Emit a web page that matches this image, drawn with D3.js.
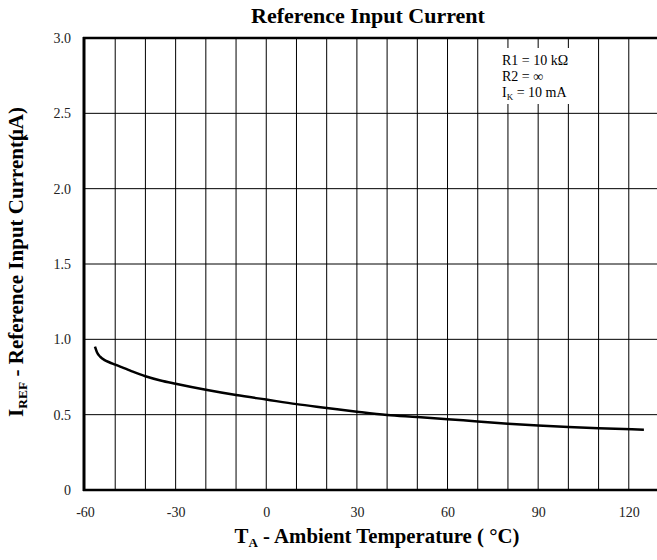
<!DOCTYPE html>
<html>
<head>
<meta charset="utf-8">
<script src="https://cdn.jsdelivr.net/npm/d3@7"></script>
<style>
  body { margin: 0; background: #fff; }
  svg { display: block; font-family: "Liberation Serif", "Times New Roman", serif; }
</style>
</head>
<body>
<svg id="chart"></svg>
<script>
// temperature (°C) vs reference input current (uA)
const temps = [-56.7, -56, -55, -53.5, -52, -50, -45, -40, -35, -30, -20, -10, 0, 10, 20, 30, 40, 50, 60, 70, 80, 90, 100, 110, 125];
const iref  = [0.951, 0.912, 0.885, 0.862, 0.848, 0.832, 0.792, 0.755, 0.727, 0.705, 0.665, 0.63, 0.6, 0.57, 0.545, 0.52, 0.498, 0.485, 0.47, 0.455, 0.44, 0.428, 0.418, 0.41, 0.4];

const xTicks = [-60, -30, 0, 30, 60, 90, 120];
const yTicks = [0, 0.5, 1.0, 1.5, 2.0, 2.5, 3.0];
const xGrid = d3.range(-60, 131, 10);

const width = 657, height = 560;
const plotLeft = 85, plotTop = 38, plotBottom = 490;

const x = d3.scaleLinear().domain([-60, 130]).range([plotLeft, 659]);
const y = d3.scaleLinear().domain([0, 3]).range([plotBottom, plotTop]);

const svg = d3.select('#chart')
  .attr('width', width)
  .attr('height', height);

// grid
svg.append('g')
  .selectAll('line')
  .data(xGrid.slice(1))
  .enter()
  .append('line')
  .attr('x1', d => x(d)).attr('x2', d => x(d))
  .attr('y1', plotTop).attr('y2', plotBottom)
  .attr('stroke', '#000').attr('stroke-width', 1);

svg.append('g')
  .selectAll('line')
  .data(yTicks.slice(1, -1))
  .enter()
  .append('line')
  .attr('x1', plotLeft).attr('x2', width)
  .attr('y1', d => y(d)).attr('y2', d => y(d))
  .attr('stroke', '#000').attr('stroke-width', 1);

// annotation box (hides grid behind)
svg.append('rect')
  .attr('x', 499).attr('y', 48)
  .attr('width', 80).attr('height', 56)
  .attr('fill', '#fff');

const note = svg.append('text')
  .attr('font-size', 14)
  .attr('fill', '#000');
note.append('tspan').attr('x', 502).attr('y', 65).text('R1 = 10 kΩ');
note.append('tspan').attr('x', 502).attr('y', 81).text('R2 = ∞');
note.append('tspan').attr('x', 502).attr('y', 97).text('I');
note.append('tspan').attr('font-size', 9).attr('dy', 3).text('K');
note.append('tspan').attr('dy', -3).text(' = 10 mA');

// frame: left, top, bottom thick
svg.append('line').attr('x1', plotLeft - 1).attr('x2', plotLeft - 1).attr('y1', plotTop - 1).attr('y2', plotBottom + 1)
  .attr('stroke', '#000').attr('stroke-width', 3);
svg.append('line').attr('x1', plotLeft - 2).attr('x2', width).attr('y1', plotTop).attr('y2', plotTop)
  .attr('stroke', '#000').attr('stroke-width', 2.5);
svg.append('line').attr('x1', plotLeft - 2).attr('x2', width).attr('y1', plotBottom).attr('y2', plotBottom)
  .attr('stroke', '#000').attr('stroke-width', 2.5);

// curve
const line = d3.line()
  .x((d, i) => x(temps[i]))
  .y(d => y(d))
  .curve(d3.curveMonotoneX);

svg.append('path')
  .datum(iref)
  .attr('fill', 'none')
  .attr('stroke', '#000')
  .attr('stroke-width', 2.5)
  .attr('d', line);

// axes labels
const yAxis = d3.axisLeft(y)
  .tickValues(yTicks)
  .tickSize(0)
  .tickPadding(14)
  .tickFormat(d => d === 0 ? '0' : d3.format('.1f')(d));

svg.append('g')
  .attr('transform', `translate(${plotLeft}, 0)`)
  .call(yAxis)
  .call(g => g.select('.domain').remove())
  .selectAll('text')
  .attr('font-family', '"Liberation Serif", serif')
  .attr('font-size', 14)
  .attr('fill', '#222');

const xAxis = d3.axisBottom(x)
  .tickValues(xTicks)
  .tickSize(0)
  .tickPadding(17)
  .tickFormat(d => String(d));

svg.append('g')
  .attr('transform', `translate(0, ${plotBottom})`)
  .call(xAxis)
  .call(g => g.select('.domain').remove())
  .selectAll('text')
  .attr('font-family', '"Liberation Serif", serif')
  .attr('font-size', 14)
  .attr('fill', '#222');

// title
svg.append('text')
  .attr('x', 368).attr('y', 23)
  .attr('text-anchor', 'middle')
  .attr('font-size', 22)
  .attr('font-weight', 'bold')
  .text('Reference Input Current');

// x title
const xt = svg.append('text')
  .attr('x', 377).attr('y', 543)
  .attr('text-anchor', 'middle')
  .attr('font-size', 20.8)
  .attr('font-weight', 'bold');
xt.append('tspan').text('T');
xt.append('tspan').attr('font-size', 13).attr('dy', 4).text('A');
xt.append('tspan').attr('dy', -4).text(' - Ambient Temperature ( °C)');

// y title
const yt = svg.append('text')
  .attr('transform', 'translate(23, 262) rotate(-90)')
  .attr('text-anchor', 'middle')
  .attr('font-size', 21)
  .attr('font-weight', 'bold');
yt.append('tspan').text('I');
yt.append('tspan').attr('font-size', 13.5).attr('dy', 4).text('REF');
yt.append('tspan').attr('dy', -4).text(' - Reference Input Current(');
yt.append('tspan').attr('dx', -7).text('μA)');
</script>
</body>
</html>
